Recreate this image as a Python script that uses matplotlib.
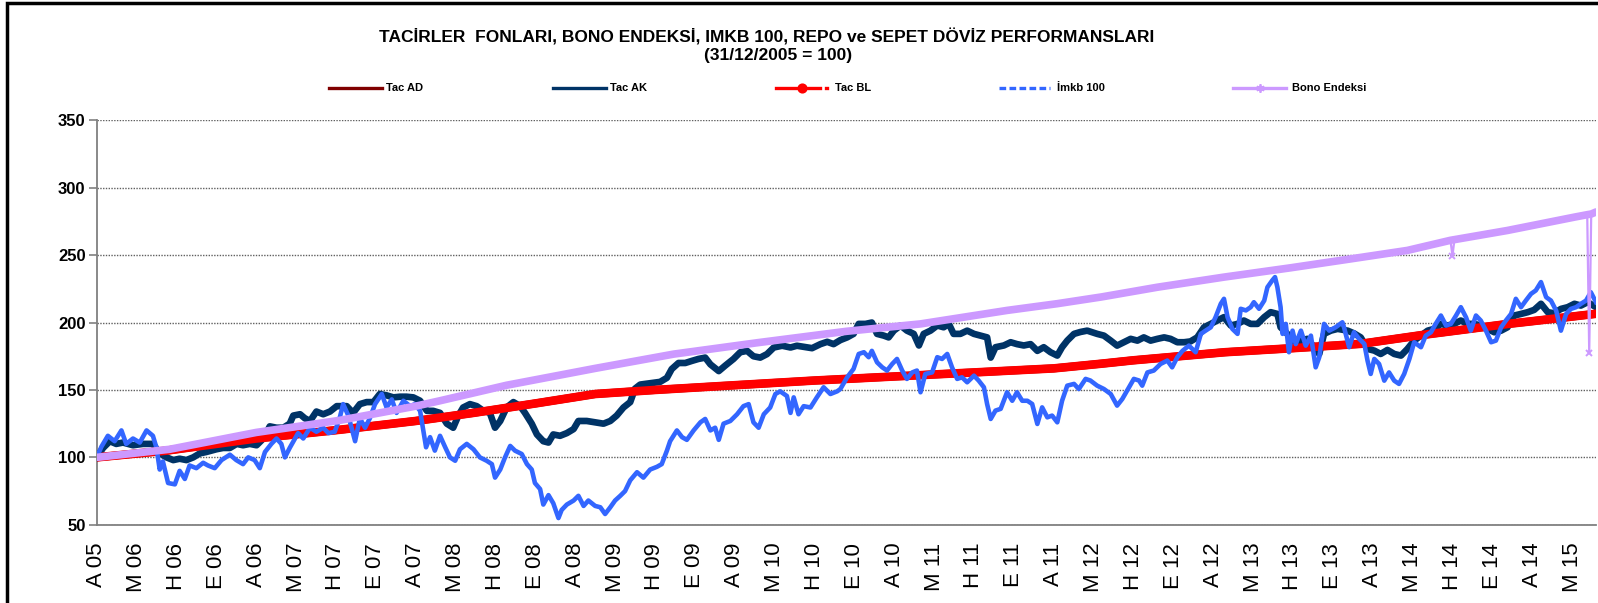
import matplotlib
matplotlib.use("Agg")
import matplotlib.pyplot as plt
from matplotlib.lines import Line2D
from matplotlib.patches import Rectangle
import numpy as np

# ---------------- data (x = quarters since 31/12/2005) ----------------
tick_labels = ["A 05", "M 06", "H 06", "E 06", "A 06", "M 07", "H 07", "E 07", "A 07",
               "M 08", "H 08", "E 08", "A 08", "M 09", "H 09", "E 09", "A 09", "M 10",
               "H 10", "E 10", "A 10", "M 11", "H 11", "E 11", "A 11", "M 12", "H 12",
               "E 12", "A 12", "M 13", "H 13", "E 13", "A 13", "M 14", "H 14", "E 14",
               "A 14", "M 15"]

imkb_q = [0.0, 0.12, 0.28, 0.45, 0.62, 0.74, 0.91, 1.08, 1.25, 1.41, 1.50, 1.58, 1.66, 1.79, 1.96,
          2.08, 2.21, 2.33, 2.50, 2.67, 2.79, 2.96, 3.13, 3.34, 3.50, 3.67, 3.80, 3.96, 4.09, 4.22,
          4.38, 4.51, 4.63, 4.72, 4.84, 5.05, 5.18, 5.35, 5.51, 5.68, 5.81, 5.97, 6.10,
          6.18, 6.31, 6.48, 6.60, 6.73, 6.85, 6.98, 7.15, 7.27, 7.40, 7.52, 7.69, 7.86, 7.98, 8.11,
          8.19, 8.26, 8.36, 8.48, 8.61, 8.74, 8.86, 8.99, 9.11, 9.28, 9.45, 9.61, 9.78, 9.91, 9.99,
          10.12, 10.24, 10.37, 10.49, 10.66, 10.79, 10.91, 10.99, 11.12, 11.20, 11.33, 11.45, 11.58,
          11.66, 11.79, 11.96, 12.08, 12.21, 12.33,
          12.50, 12.63, 12.75, 12.88, 13.00, 13.13, 13.25, 13.38, 13.55, 13.71, 13.88, 14.05, 14.17,
          14.30, 14.38, 14.55, 14.68, 14.80, 14.97, 15.14, 15.26, 15.39, 15.51, 15.60, 15.72, 15.89,
          16.06, 16.22, 16.35, 16.47, 16.60, 16.73, 16.89, 17.02, 17.14, 17.31, 17.40, 17.48, 17.60,
          17.73, 17.90, 18.06, 18.23, 18.40, 18.57,
          18.65, 18.82, 18.98, 19.11, 19.24, 19.36, 19.44, 19.57, 19.70, 19.82, 19.95, 20.07, 20.20,
          20.32, 20.45, 20.57, 20.66, 20.78, 20.95, 21.08, 21.20, 21.33, 21.45, 21.58, 21.70, 21.83,
          22.00, 22.12, 22.25, 22.33, 22.42, 22.54, 22.67, 22.83, 22.96, 23.08, 23.21, 23.34, 23.46,
          23.59, 23.71, 23.84, 23.96, 24.09, 24.21, 24.34, 24.51, 24.63, 24.80, 24.92,
          25.09, 25.26, 25.43, 25.59, 25.72, 25.89, 26.01, 26.14, 26.22, 26.35, 26.51, 26.68, 26.85,
          26.97, 27.10, 27.23, 27.39, 27.56, 27.69, 27.81, 27.94, 28.06, 28.19, 28.27, 28.36, 28.48,
          28.61, 28.69, 28.82, 28.94, 29.02, 29.15, 29.28, 29.36, 29.48, 29.55, 29.61, 29.69, 29.74,
          29.82, 29.90, 29.99, 30.07, 30.20, 30.32, 30.45, 30.57, 30.66, 30.78, 30.91, 31.07, 31.24,
          31.28, 31.41, 31.53, 31.66, 31.79, 31.87, 31.95, 32.04, 32.16, 32.29, 32.41, 32.54, 32.66,
          32.79, 32.92, 33.04, 33.21, 33.33, 33.46, 33.58, 33.71, 33.84, 33.96, 34.09, 34.21, 34.34,
          34.46, 34.59, 34.71, 34.84, 34.97, 35.09, 35.22, 35.34, 35.47, 35.59, 35.72, 35.84, 35.97,
          36.09, 36.22, 36.35, 36.47, 36.60, 36.72, 36.85, 36.97, 37.10, 37.22, 37.35, 37.47, 37.60]
imkb_v = [100, 108, 116, 112, 120, 110, 114, 111, 120, 116, 107, 91, 97, 81, 80,
          90, 84, 94, 92, 96, 94, 92, 98, 102, 98, 95, 100, 98, 92, 104,
          110, 114, 110, 100, 107, 118, 114, 122, 119, 122, 118, 119, 130,
          139.5, 131, 112, 129, 122, 129, 139.5, 147, 137, 143, 133, 142, 138, 139.5, 134.5,
          120, 107.5, 115, 105, 116, 107.5, 100, 97.5, 106, 110, 106, 100, 97.5, 95, 85,
          91, 100, 108.5, 105, 102.5, 95, 91, 81, 76.5, 65, 72, 66, 55,
          61, 65, 68, 71.5, 64, 68,
          64, 63, 58, 63, 68, 71.5, 75, 83, 89, 85, 91, 93, 95,
          105, 112, 120, 115, 113, 120, 126, 128.5, 120, 122, 113, 125, 127,
          132, 138, 139.5, 126, 122, 132, 137, 147, 149, 145.5, 133, 144.5, 132,
          138, 137, 144.5, 152, 147, 149,
          150.7, 159.4, 165.6, 176.7, 178, 174.3, 179, 170.5, 166.8, 164.4, 169.3, 173, 164.4,
          158.2, 163, 164.4, 148.3, 161.9, 163, 174.3, 173, 176.7, 166.8, 158.2, 159.4, 155.7,
          160.6, 156.9, 152, 139.6, 128.5, 134.7, 136, 148.3, 142, 148.3, 142, 142, 139.6,
          124.8, 137.1, 129.7, 131, 126, 142, 153.2, 154.5, 150.7, 158.2, 157,
          153.2, 150.7, 147, 138.4, 143.3, 152, 158.2, 157, 153.2, 163, 164.4, 169.3, 171.8,
          166.8, 174.3, 179, 182.9, 178, 191.6, 194, 196.5, 204, 213.9, 217.6, 204, 195.3,
          191.6, 210.2, 209, 211.4, 215.1, 210.2, 216.3, 226.2, 231.2, 233.7, 226.2, 211.4, 191.6,
          199, 178, 194, 184, 194, 182.9, 190.3, 166.8, 174.3, 199, 194, 196.5, 200.2,
          196.5, 181.7, 192.8, 187.9, 184.2, 171.8, 161.9, 173, 169.3, 156.9, 163, 156.9, 154.5,
          161.9, 173, 185.4, 181.7, 190.3, 192.8, 199, 205.2, 197.8, 199, 205.2, 211.4, 203.9,
          194, 205.2, 201.5, 194, 185.4, 186.6, 196.5, 201.5, 206.4, 217.6, 211.4, 216.3, 221.3,
          223.8, 230, 218.8, 216.3, 208.9, 194, 206.4, 210.1, 211.4, 213.9, 216.3, 222.5, 215.1]

ak_q = [0.0, 0.16, 0.33, 0.49, 0.66, 0.91, 1.16, 1.41, 1.58, 1.75, 1.92, 2.08, 2.25, 2.42, 2.59,
        2.75, 3.00, 3.17, 3.34, 3.51, 3.67, 3.84, 4.01, 4.18, 4.34, 4.51, 4.68, 4.84, 4.93, 5.10,
        5.22, 5.35, 5.51, 5.68, 5.85, 6.02,
        6.27, 6.43, 6.60, 6.77, 6.94, 7.10, 7.27, 7.44, 7.61, 7.77, 7.94, 8.11, 8.28, 8.44, 8.61,
        8.78, 8.94, 9.07, 9.19, 9.36, 9.53, 9.70, 9.86, 9.99, 10.12, 10.28, 10.45, 10.62, 10.74,
        10.91, 11.04, 11.20, 11.33, 11.45, 11.62, 11.79, 11.96, 12.08, 12.29,
        12.71, 12.88, 13.04, 13.21, 13.38, 13.50, 13.63, 13.88, 14.13, 14.30, 14.42, 14.59, 14.76,
        14.93, 15.09, 15.26, 15.39, 15.60, 15.76, 15.97, 16.14, 16.31, 16.47, 16.64, 16.81, 16.98,
        17.19, 17.40, 17.56, 17.73, 17.94, 18.15, 18.32, 18.48,
        18.65, 18.82, 18.98, 19.11, 19.28, 19.44, 19.57, 19.74, 19.86, 19.99, 20.16, 20.32, 20.49,
        20.62, 20.74, 20.91, 21.08, 21.24, 21.37, 21.49, 21.66, 21.83, 22.00, 22.16, 22.33, 22.42,
        22.54, 22.75, 22.92, 23.08, 23.25, 23.42, 23.59, 23.75, 23.92, 24.09, 24.21, 24.34, 24.51,
        24.67, 24.84,
        25.09, 25.26, 25.43, 25.59, 25.76, 25.93, 26.10, 26.26, 26.43, 26.60, 26.77, 26.93, 27.10,
        27.27, 27.43, 27.60, 27.77, 27.94, 28.10, 28.27, 28.44, 28.61, 28.77, 28.94, 29.11, 29.28,
        29.44, 29.61, 29.69, 29.86, 30.03, 30.20, 30.36, 30.53, 30.66, 30.78, 30.95, 31.12,
        31.37, 31.53, 31.70, 31.87, 32.04, 32.20, 32.37, 32.54, 32.71, 32.87, 33.04, 33.21, 33.38,
        33.54, 33.71, 33.88, 34.04, 34.21, 34.38, 34.55, 34.71, 34.88, 35.05, 35.22, 35.38, 35.55,
        35.72, 35.89, 36.05, 36.22, 36.39, 36.55, 36.72, 36.89, 37.06, 37.22, 37.39, 37.60]
ak_v = [100, 107, 112, 110, 111, 109, 110, 110, 103, 100, 98, 99, 98, 100, 103,
        104, 106, 107, 107, 110, 109, 110, 109, 114, 123, 122, 122, 125, 131, 132,
        129, 127, 134, 132, 134, 138,
        138, 133, 139.5, 141, 141, 147, 146, 144.5, 145, 145, 144.5, 142, 134.5, 134.5, 133,
        125, 122, 131, 137, 139.5, 138, 134.5, 133, 122, 127, 137, 141, 138, 133,
        125, 117, 112, 111, 117, 116, 118, 121, 127, 127,
        125, 127, 131, 137, 141, 151, 154, 155, 156, 159, 165.5, 170, 170,
        171.6, 173, 174, 169, 164, 168, 173, 178, 179, 175, 174, 176.6, 181.5,
        182.8, 181.5, 182.8, 182, 181, 184, 185.7, 184,
        187, 189, 191.6, 199, 199, 200, 191.6, 190.3, 189, 194, 197.8, 194, 191.6,
        183, 191.6, 194, 197.8, 196.5, 199, 191.6, 191.6, 194, 191.6, 190.3, 189, 174,
        181.7, 183, 185.4, 184, 183, 184, 179, 181.7, 178, 175.5, 181.7, 186.6, 191.6,
        193, 194,
        191.6, 190.3, 186.6, 182.9, 185.4, 187.9, 186.6, 189, 186.6, 187.9, 189, 187.9, 185.4,
        185.4, 186, 189, 196.5, 199, 201.5, 204, 197.8, 199, 201.5, 199, 199, 204,
        207.7, 206.4, 196.5, 191.6, 184, 186.6, 187.9, 181.7, 176.7, 191.6, 194, 195.3,
        194, 192, 189, 180.4, 179.2, 176.7, 179.7, 176.7, 175.5, 180.4, 186.6, 190.3, 194,
        195.3, 199, 197.8, 199, 201.5, 199, 199, 197.8, 195.3, 192.8, 194, 196.5, 205.2,
        206.4, 207.7, 209.4, 213.9, 207.7, 206.9, 210.1, 211.4, 213.9, 212.6, 215.1, 211.4]

bl_q = [0, 1.75, 4.0, 6.1, 8.0, 9.45, 11.0, 12.5, 14.0, 15.7, 18.0, 20.0, 22.0, 24.0, 25.2,
        26.0, 28.3, 30.0, 31.7, 33.3, 35.4, 36.0, 37.6]
bl_v = [100, 105, 114, 120.5, 127, 133, 140, 147, 150, 153, 157, 160, 163, 166, 169.5,
        172, 178, 181, 184.2, 191, 199, 201, 206.5]
ad_q = bl_q
ad_v = bl_v

bono_q = [0, 1.83, 4.0, 6.1, 8.0, 8.61, 10.28, 12.5, 14.47, 16.56, 18.8, 20.66, 22.83, 24.09,
          25.2, 26.6, 28.27, 29.94, 31.4, 32.87, 33.95, 34.0, 34.05, 35.38, 37.06,
          37.38, 37.43, 37.48, 37.6]
bono_v = [100, 106, 118.5, 127.5, 138, 142, 153.5, 166, 176.6, 185, 193.5, 199, 209, 214,
          219, 226.2, 233.7, 240.6, 247, 253.5, 261, 249.5, 261.5, 268.3, 278.2,
          280, 177.3, 280.5, 282]

for a, b in [(imkb_q, imkb_v), (ak_q, ak_v), (bl_q, bl_v), (bono_q, bono_v)]:
    assert len(a) == len(b), (len(a), len(b))

# ---------------- styling ----------------
W, H = 1598, 603
C_AD, C_AK, C_BL, C_IMKB, C_BONO = "#800000", "#003366", "#FF0000", "#3366FF", "#CC99FF"
FONT = ["Liberation Sans", "DejaVu Sans"]
plt.rcParams["font.family"] = FONT

fig = plt.figure(figsize=(W / 100, H / 100), dpi=100)
fig.patch.set_facecolor("white")

def fx(px):
    return px / W

def fy(py):
    return 1 - py / H

ax_l, ax_r, ax_t, ax_b = 96.7, 1596, 120.3, 524.8
ax = fig.add_axes([fx(ax_l), fy(ax_b), fx(ax_r) - fx(ax_l), fy(ax_t) - fy(ax_b)])

ax.plot(ad_q, ad_v, color=C_AD, lw=5.8, solid_capstyle="round", zorder=2)
ax.plot(ak_q, ak_v, color=C_AK, lw=4.8, solid_joinstyle="round", zorder=3)
ax.plot(bl_q, bl_v, color=C_BL, lw=6.2, solid_capstyle="round", zorder=4)
ax.plot(imkb_q, imkb_v, color=C_IMKB, lw=3.3, solid_joinstyle="round", zorder=5)

bq = np.array(bono_q)
bv = np.array(bono_v)
nb_prev = np.r_[bv[0], bv[:-1]]
nb_next = np.r_[bv[1:], bv[-1]]
spike = bv < np.minimum(nb_prev, nb_next) - 5
ax.plot(bq[~spike], bv[~spike], color=C_BONO, lw=5.5, solid_capstyle="round", zorder=6)
ax.plot(bq, bv, color=C_BONO, lw=1.6, zorder=6, marker="x", markersize=5,
        markeredgewidth=1.4, markevery=list(np.where(spike)[0]))

ax.set_xlim(0, 37.6)
ax.set_ylim(50, 350)
ax.set_yticks(np.arange(50, 351, 50))
ax.set_xticks(range(len(tick_labels)))
ax.set_xticklabels(tick_labels, rotation=90, fontsize=16, va="top", ha="center")
for lab in ax.get_yticklabels():
    lab.set_fontweight("bold")
    lab.set_fontsize(12)
ax.tick_params(axis="x", length=0, pad=13)
ax.tick_params(axis="y", length=6, width=1.2, color="#808080", pad=2)
ax.yaxis.grid(True, color="#606060", linestyle=(0, (1, 1)), lw=1.0)
ax.set_axisbelow(True)
for s in ["top", "right"]:
    ax.spines[s].set_visible(False)
for s in ["left", "bottom"]:
    ax.spines[s].set_color("#808080")
    ax.spines[s].set_linewidth(1.3)

# ---------------- title ----------------
fig.text(fx(767), fy(37), "TACİRLER  FONLARI, BONO ENDEKSİ, IMKB 100, REPO ve SEPET DÖVİZ PERFORMANSLARI",
         ha="center", va="center", fontsize=12.5, fontweight="bold")
fig.text(fx(778), fy(55.5), "(31/12/2005 = 100)", ha="center", va="center",
         fontsize=12.5, fontweight="bold")

# ---------------- legend ----------------
leg_y = 88
legend_items = [
    ("Tac AD", C_AD, 329, 382, 386),
    ("Tac AK", C_AK, 553, 606, 610),
    ("Tac BL", C_BL, 776, 820, 835),
    ("İmkb 100", C_IMKB, 999, 1050, 1057),
    ("Bono Endeksi", C_BONO, 1233, 1286, 1292),
]
legend_styles = {
    "Tac AD": dict(linestyle="-"),
    "Tac AK": dict(linestyle="-"),
    "Tac BL": dict(linestyle="-", marker="o", dot=826),
    "İmkb 100": dict(linestyle=(0, (2, 1))),
    "Bono Endeksi": dict(linestyle="-", marker=(6, 2, 0)),
}
for name, col, x0, x1, xt in legend_items:
    st = legend_styles[name]
    fig.add_artist(Line2D([fx(x0), fx(x1)], [fy(leg_y), fy(leg_y)], transform=fig.transFigure,
                          color=col, lw=2.4, linestyle=st["linestyle"]))
    if "marker" in st:
        fig.add_artist(Line2D([fx((x0 + x1) / 2 + (4 if name == "Tac BL" else 0))], [fy(leg_y)],
                              transform=fig.transFigure, color=col, marker=st["marker"],
                              markersize=6, markeredgewidth=1.3, linestyle="none"))
    if "dot" in st:
        fig.add_artist(Line2D([fx(st["dot"]), fx(st["dot"] + 1.5)], [fy(leg_y), fy(leg_y)],
                              transform=fig.transFigure, color=col, lw=2.4))
    fig.text(fx(xt), fy(leg_y), name, ha="left", va="center", fontsize=8, fontweight="bold")

# ---------------- border ----------------
fig.add_artist(Rectangle((fx(7), fy(H + 20)), fx(W + 40) - fx(7), fy(2.5) - fy(H + 20),
                         transform=fig.transFigure, fill=False, edgecolor="black", lw=2.5))

fig.savefig("out.png", dpi=100, facecolor="white")
